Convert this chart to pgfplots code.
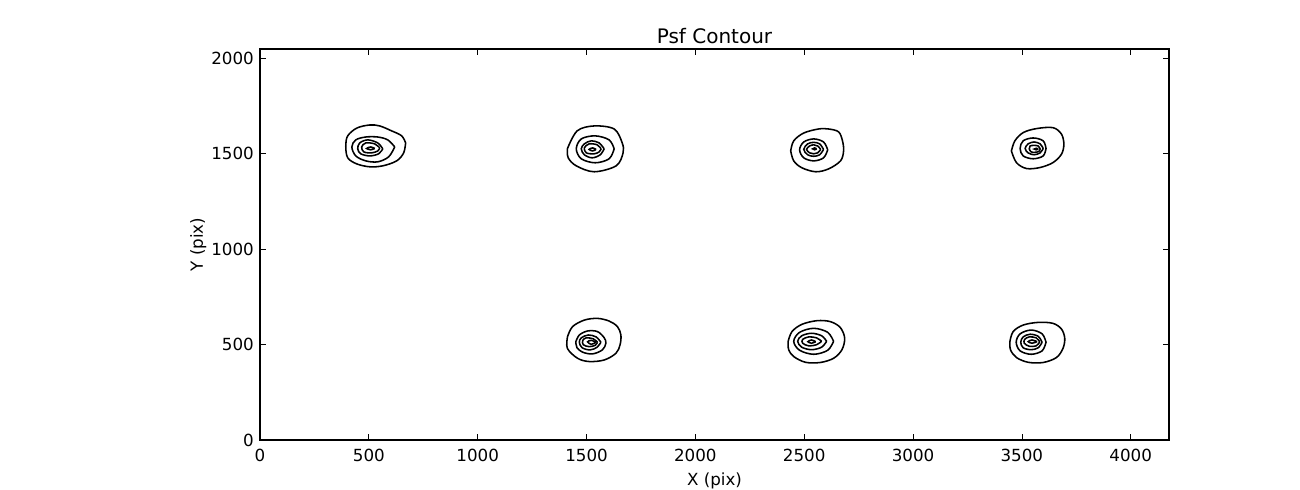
\documentclass[border=0pt]{standalone}
\usepackage{fontspec}
\setmainfont{DejaVu Sans}
\usepackage{pgfplots}
\pgfplotsset{compat=1.18}
\begin{document}
\begin{tikzpicture}
\useasboundingbox (-260bp,-50bp) rectangle (1040bp,440bp);
\begin{axis}[
  at={(0,0)}, anchor=south west,
  scale only axis, width=909bp, height=391bp,
  xmin=0, xmax=4176, ymin=0, ymax=2048,
  xtick={0,500,1000,1500,2000,2500,3000,3500,4000},
  ytick={0,500,1000,1500,2000},
  scaled ticks=false,
  /pgf/number format/assume math mode=true,
  /pgf/number format/1000 sep={},
  tick align=inside,
  major tick length=5.6bp,
  tick style={line width=0.7bp, black},
  axis line style={line width=1.39bp, black},
  ticklabel style={font=\fontsize{16.7bp}{20bp}\selectfont},
  xticklabel style={inner sep=0pt, anchor=north, yshift=-9bp},
  yticklabel style={inner sep=0pt, anchor=east, xshift=-6bp},
  title={Psf Contour},
  title style={at={(axis description cs:0.5,0.9975)}, anchor=south, inner sep=0pt, font=\fontsize{20bp}{24bp}\selectfont},
  xlabel={X (pix)},
  xlabel style={at={(axis description cs:0.5,-0.0844)}, anchor=north, inner sep=0pt, font=\fontsize{16.7bp}{20bp}\selectfont},
  ylabel={Y (pix)},
  ylabel style={at={(axis description cs:-0.0589,0.5)}, anchor=south, rotate=0, inner sep=0pt, font=\fontsize{16.7bp}{20bp}\selectfont},
  ct/.style={black, line width=1.55bp, smooth, tension=0.55, mark=none},
]
% PSF 1 (top left)
\addplot[ct] coordinates {(669,1556) (651,1593) (605,1619) (550,1645) (504,1650) (445,1634) (403,1593) (394,1540) (403,1478) (445,1446) (504,1431) (564,1436) (628,1462) (660,1504) (669,1556)};
\addplot[ct] coordinates {(619,1535) (587,1572) (541,1587) (486,1587) (440,1572) (422,1535) (440,1488) (486,1462) (541,1457) (591,1483) (619,1535)};
\addplot[ct] coordinates {(564,1525) (541,1556) (495,1572) (458,1556) (449,1525) (463,1499) (504,1488) (545,1499) (564,1525)};
\addplot[ct] coordinates {(550,1530) (527,1551) (486,1556) (467,1535) (477,1509) (513,1504) (541,1514) (550,1530)};
\addplot[ct] coordinates {(527,1527) (509,1535) (490,1527) (509,1520) (527,1527)};
% PSF 2 (top, 1500)
\addplot[ct] coordinates {(1412,1525) (1457,1619) (1535,1645) (1627,1629) (1664,1556) (1668,1504) (1636,1436) (1535,1405) (1453,1436) (1416,1478) (1412,1525)};
\addplot[ct] coordinates {(1627,1525) (1604,1572) (1540,1593) (1476,1577) (1453,1525) (1476,1473) (1540,1452) (1604,1473) (1627,1525)};
\addplot[ct] coordinates {(1581,1525) (1558,1556) (1522,1567) (1490,1551) (1476,1525) (1490,1494) (1526,1478) (1563,1494) (1581,1525)};
\addplot[ct] coordinates {(1567,1525) (1549,1546) (1512,1551) (1490,1530) (1499,1504) (1535,1499) (1558,1509) (1567,1525)};
\addplot[ct] coordinates {(1544,1522) (1528,1530) (1512,1522) (1528,1514) (1544,1522)};
% PSF 3 (top, 2500)
\addplot[ct] coordinates {(2438,1514) (2452,1567) (2498,1608) (2566,1629) (2612,1629) (2658,1614) (2676,1567) (2681,1514) (2667,1462) (2612,1420) (2553,1405) (2489,1426) (2452,1462) (2438,1514)};
\addplot[ct] coordinates {(2608,1520) (2589,1561) (2544,1577) (2498,1561) (2479,1520) (2498,1478) (2544,1462) (2589,1478) (2608,1520)};
\addplot[ct] coordinates {(2589,1522) (2571,1551) (2544,1559) (2516,1551) (2498,1522) (2516,1494) (2544,1486) (2571,1494) (2589,1522)};
\addplot[ct] coordinates {(2576,1522) (2562,1540) (2544,1546) (2525,1540) (2511,1522) (2525,1504) (2544,1499) (2562,1504) (2576,1522)};
\addplot[ct] coordinates {(2557,1525) (2548,1530) (2539,1525) (2548,1520) (2557,1525)};
% PSF 4 (top, 3500)
\addplot[ct] coordinates {(3452,1514) (3468,1567) (3506,1610) (3567,1631) (3643,1636) (3682,1602) (3693,1549) (3682,1497) (3643,1453) (3583,1427) (3521,1422) (3475,1453) (3452,1514)};
\addplot[ct] coordinates {(3611,1527) (3598,1567) (3552,1582) (3506,1567) (3492,1527) (3506,1488) (3552,1473) (3598,1488) (3611,1527)};
\addplot[ct] coordinates {(3598,1527) (3584,1551) (3556,1561) (3529,1551) (3515,1527) (3529,1504) (3556,1494) (3584,1504) (3598,1527)};
\addplot[ct] coordinates {(3584,1525) (3575,1540) (3556,1543) (3538,1540) (3534,1525) (3543,1509) (3561,1507) (3579,1512) (3584,1525)};
\addplot[ct] coordinates {(3575,1524) (3566,1528) (3557,1524) (3566,1520) (3575,1524)};
% PSF 5 (bottom, 1500)
\addplot[ct] coordinates {(1413,542) (1436,594) (1490,628) (1550,637) (1604,623) (1642,594) (1658,550) (1654,498) (1635,454) (1581,419) (1512,411) (1459,428) (1412,480) (1413,542)};
\addplot[ct] coordinates {(1451,515) (1467,550) (1505,571) (1550,568) (1581,536) (1589,507) (1573,472) (1528,451) (1482,460) (1456,484) (1451,515)};
\addplot[ct] coordinates {(1566,512) (1544,540) (1508,550) (1476,535) (1467,512) (1480,483) (1517,472) (1549,486) (1566,512)};
\addplot[ct] coordinates {(1550,512) (1531,530) (1499,535) (1483,522) (1485,499) (1512,489) (1540,496) (1550,512)};
\addplot[ct] coordinates {(1544,512) (1522,522) (1505,514) (1522,501) (1544,512)};
% PSF 6 (bottom, 2500)
\addplot[ct] coordinates {(2426,515) (2444,568) (2490,606) (2559,625) (2620,620) (2666,589) (2686,533) (2673,472) (2635,428) (2574,406) (2506,407) (2452,437) (2429,472) (2426,515)};
\addplot[ct] coordinates {(2635,517) (2608,564) (2544,585) (2479,564) (2452,517) (2479,470) (2544,449) (2608,470) (2635,517)};
\addplot[ct] coordinates {(2603,517) (2580,546) (2534,559) (2489,546) (2470,517) (2489,486) (2534,473) (2580,486) (2603,517)};
\addplot[ct] coordinates {(2580,517) (2557,535) (2521,540) (2493,527) (2493,507) (2521,493) (2557,499) (2580,517)};
\addplot[ct] coordinates {(2553,515) (2534,524) (2517,515) (2534,507) (2553,515)};
% PSF 7 (bottom, 3500)
\addplot[ct] coordinates {(3445,515) (3460,568) (3506,602) (3575,616) (3643,611) (3682,581) (3697,533) (3689,480) (3659,432) (3598,406) (3529,407) (3475,432) (3448,472) (3445,515)};
\addplot[ct] coordinates {(3611,512) (3593,556) (3543,576) (3492,556) (3474,512) (3492,467) (3543,449) (3593,467) (3611,512)};
\addplot[ct] coordinates {(3593,512) (3575,543) (3538,554) (3506,540) (3495,512) (3506,483) (3543,473) (3575,483) (3593,512)};
\addplot[ct] coordinates {(3582,514) (3566,535) (3534,540) (3513,527) (3511,507) (3534,491) (3566,493) (3582,514)};
\addplot[ct] coordinates {(3570,515) (3547,524) (3529,515) (3547,507) (3570,515)};
\end{axis}
\end{tikzpicture}
\end{document}
